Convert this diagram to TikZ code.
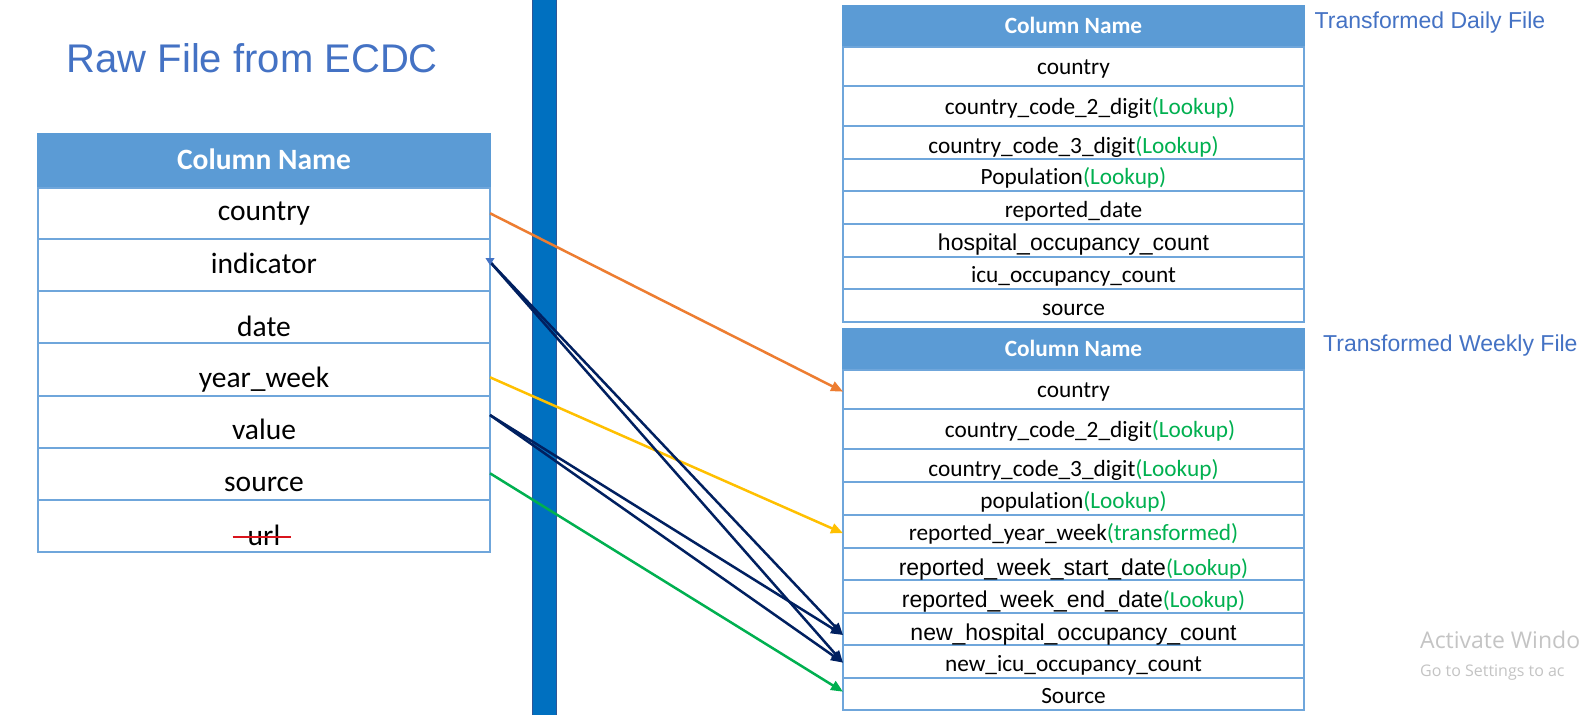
\documentclass[tikz,border=0pt]{standalone}
\usepackage{fontspec}
\setmainfont{Carlito}[Ligatures=NoCommon]
\newfontfamily\arialf{Liberation Sans}
\newfontfamily\wmfont{Open Sans}
\usetikzlibrary{arrows.meta}
\definecolor{hdr}{HTML}{5B9BD5}
\definecolor{tline}{HTML}{6FA6DB}
\definecolor{ttl}{HTML}{4472C4}
\definecolor{barblue}{HTML}{0070C0}
\definecolor{baredge}{HTML}{2F5597}
\definecolor{lk}{HTML}{00B050}
\definecolor{navyc}{HTML}{002060}
\definecolor{orc}{HTML}{ED7D31}
\definecolor{yec}{HTML}{FFC000}
\definecolor{strk}{HTML}{D9141C}
\definecolor{wm}{HTML}{C4C4C4}
\newcommand\mkrow[5]{\node[cell, minimum width=#5pt, minimum height=#4pt-#3pt] (#1) at (#2,#3) {};}
\newcommand\mkhdr[5]{\node[hdrcell, minimum width=#5pt, minimum height=#4pt-#3pt] (#1) at (#2,#3) {};}
\newcommand\lku[1]{\textcolor{lk}{#1}}
\tikzset{
  cell/.style={draw=tline, line width=2pt, fill=white, inner sep=0pt, outer sep=0pt, anchor=north west},
  hdrcell/.style={draw=hdr, line width=2pt, fill=hdr, inner sep=0pt, outer sep=0pt, anchor=north west},
  ltxt/.style={anchor=base, inner sep=0pt, font=\fontsize{29.5pt}{30pt}\selectfont},
  lhdr/.style={anchor=base, inner sep=0pt, text=white, font=\fontsize{29.5pt}{30pt}\selectfont\bfseries},
  rtxt/.style={anchor=base, inner sep=0pt, font=\fontsize{23.3pt}{24pt}\selectfont},
  rarial/.style={anchor=base, inner sep=0pt, font=\fontsize{23pt}{24pt}\selectfont},
  rhdr/.style={anchor=base, inner sep=0pt, text=white, font=\fontsize{23.3pt}{24pt}\selectfont\bfseries},
  sidettl/.style={anchor=base west, inner sep=0pt, text=ttl, font=\arialf\fontsize{23pt}{24pt}\selectfont},
  conn/.style={line width=2.5pt, -{Triangle[length=12pt,width=10pt]}},
}
\begin{document}
\begin{tikzpicture}[x=1pt,y=-1pt]
\clip (0,0) rectangle (1580,715);
\fill[white] (0,0) rectangle (1580,715);

% title
\node[anchor=base west, inner sep=0pt, text=ttl, font=\arialf\fontsize{40pt}{42pt}\selectfont] (title) at (66.5,72) {Raw File from ECDC};

% vertical bar
\fill[barblue, draw=baredge, line width=0.8pt] (532.5,-2) rectangle (556.5,717);

% left table
\mkhdr{LH}{38}{134}{187.5}{452}
\mkrow{L1}{38}{187.5}{239}{452}
\mkrow{L2}{38}{239}{291.3}{452}
\mkrow{L3}{38}{291.3}{343.3}{452}
\mkrow{L4}{38}{343.3}{395.7}{452}
\mkrow{L5}{38}{395.7}{448}{452}
\mkrow{L6}{38}{448}{500}{452}
\mkrow{L7}{38}{500}{552}{452}
\node[lhdr] (lht) at (264,169) {Column Name};
\node[ltxt] (l1t) at (264,220) {country};
\node[ltxt] (l2t) at (264,273.3) {indicator};
\node[ltxt] (l3t) at (264,336) {date};
\node[ltxt] (l4t) at (264,387.7) {year\_week};
\node[ltxt] (l5t) at (264,439) {value};
\node[ltxt] (l6t) at (264,491.7) {source};
\node[ltxt] (l7t) at (264,545) {url};
\draw[strk, line width=2.4pt] ([xshift=-15pt,yshift=8pt]l7t.base west) -- ([xshift=11pt,yshift=8pt]l7t.base east);

% daily table
\mkhdr{DH}{843}{5.7}{46.7}{461}
\mkrow{D1}{843}{46.7}{86.3}{461}
\mkrow{D2}{843}{86.3}{126}{461}
\mkrow{D3}{843}{126}{158.7}{461}
\mkrow{D4}{843}{158.7}{191.3}{461}
\mkrow{D5}{843}{191.3}{224}{461}
\mkrow{D6}{843}{224}{256.7}{461}
\mkrow{D7}{843}{256.7}{289.3}{461}
\mkrow{D8}{843}{289.3}{322}{461}
\node[rhdr] (dht) at (1073.5,33.3) {Column Name};
\node[rtxt] (d1t) at (1073.5,74) {country};
\node[rtxt] (d2t) at (1090,114.3) {country\_code\_2\_digit\lku{(Lookup)}};
\node[rtxt] (d3t) at (1073.5,153.3) {country\_code\_3\_digit\lku{(Lookup)}};
\node[rtxt] (d4t) at (1073.5,184.3) {Population\lku{(Lookup)}};
\node[rtxt] (d5t) at (1073.5,217.3) {reported\_date};
\node[rarial] (d6t) at (1073.5,250.7) {\arialf hospital\_occupancy\_count};
\node[rtxt] (d7t) at (1073.5,282.3) {icu\_occupancy\_count};
\node[rtxt] (d8t) at (1073.5,315.3) {source};
\node[sidettl] (dttl) at (1314.5,28) {Transformed Daily File};

% weekly table
\mkhdr{WH}{843}{329.3}{370}{461}
\mkrow{W1}{843}{370}{409.3}{461}
\mkrow{W2}{843}{409.3}{449.3}{461}
\mkrow{W3}{843}{449.3}{482.3}{461}
\mkrow{W4}{843}{482.3}{514.7}{461}
\mkrow{W5}{843}{514.7}{547.7}{461}
\mkrow{W6}{843}{547.7}{580}{461}
\mkrow{W7}{843}{580}{612.7}{461}
\mkrow{W8}{843}{612.7}{645.3}{461}
\mkrow{W9}{843}{645.3}{678}{461}
\mkrow{W10}{843}{678}{710}{461}
\node[rhdr] (wht) at (1073.5,356.7) {Column Name};
\node[rtxt] (w1t) at (1073.5,397.3) {country};
\node[rtxt] (w2t) at (1090,437.3) {country\_code\_2\_digit\lku{(Lookup)}};
\node[rtxt] (w3t) at (1073.5,476) {country\_code\_3\_digit\lku{(Lookup)}};
\node[rtxt] (w4t) at (1073.5,508.3) {population\lku{(Lookup)}};
\node[rtxt] (w5t) at (1073.5,540.7) {reported\_year\_week\lku{(transformed)}};
\node[rarial] (w6t) at (1073.5,575) {{\arialf reported\_week\_start\_date}\lku{(Lookup)}};
\node[rarial] (w7t) at (1073.5,607.3) {{\arialf reported\_week\_end\_date}\lku{(Lookup)}};
\node[rarial] (w8t) at (1073.5,640) {\arialf new\_hospital\_occupancy\_count};
\node[rtxt] (w9t) at (1073.5,671.7) {new\_icu\_occupancy\_count};
\node[rtxt] (w10t) at (1073.5,703.3) {Source};
\node[sidettl] (wttl) at (1323,351) {Transformed Weekly File};

% watermark (as printed, cut at the edge)
\node[anchor=base west, inner sep=0pt, text=wm, font=\wmfont\fontsize{23pt}{24pt}\selectfont] (wm1) at (1420,648) {Activate Windo};
\node[anchor=base west, inner sep=0pt, text=wm, font=\wmfont\fontsize{16pt}{17pt}\selectfont] (wm2) at (1420,676) {Go to Settings to ac};

% connectors
\draw[conn, orc] (L1.east) -- ([yshift=-2pt]W1.west);
\draw[conn, yec] ([yshift=-7.8pt]L4.east) -- ([yshift=-2pt]W5.west);
\draw[conn, navyc] ([yshift=3.3pt]L2.east) -- ([yshift=-6pt]W8.west);
\draw[conn, navyc] ([yshift=3.3pt]L2.east) -- ([yshift=-1pt]W9.west);
\draw[conn, navyc] ([yshift=6.8pt]L5.east) -- ([yshift=-6pt]W8.west);
\draw[conn, navyc] ([yshift=6.8pt]L5.east) -- ([yshift=-1pt]W9.west);
\draw[conn, lk] ([yshift=0.7pt]L6.east) -- ([yshift=2.3pt]W10.west);
\fill[ttl] ([xshift=-4.5pt,yshift=7pt]L2.east) -- ([xshift=4.5pt,yshift=7pt]L2.east) -- ([yshift=0pt]L2.east) -- cycle;
\end{tikzpicture}
\end{document}
